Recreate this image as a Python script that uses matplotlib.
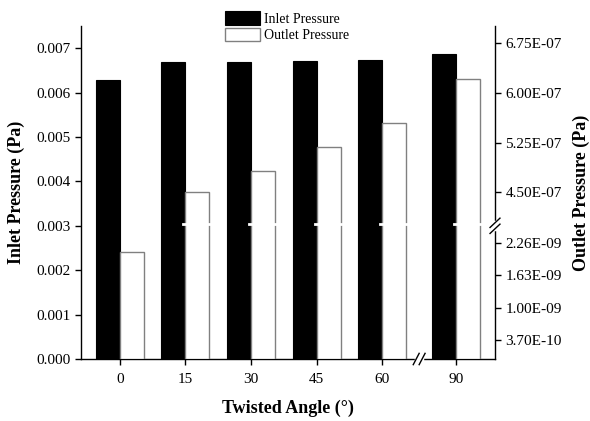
import numpy as np
import matplotlib
matplotlib.use("Agg")
import matplotlib.pyplot as plt
import matplotlib.transforms as mtransforms

plt.rcParams['font.family'] = ['Liberation Serif', 'DejaVu Serif']
plt.rcParams['axes.linewidth'] = 1.0

# data
angles = ["0", "15", "30", "45", "60", "90"]
inlet = [0.00629, 0.00670, 0.00669, 0.00671, 0.00673, 0.00686]
outlet = [2.09e-9, 4.50e-7, 4.83e-7, 5.19e-7, 5.55e-7, 6.21e-7]

left_ticks = [0.000, 0.001, 0.002, 0.003, 0.004, 0.005, 0.006, 0.007]
right_ticks = [3.70e-10, 1.00e-9, 1.63e-9, 2.26e-9, 4.50e-7, 5.25e-7, 6.00e-7, 6.75e-7]

# broken right scale: lower piece and upper piece
low_top = 2.6e-9
high_bot = 4.0e-7
high_top = 7.0e-7
frac_break = 0.40

def fwd(v):
	v = np.asarray(v, dtype=float)
	return np.interp(v, [0.0, low_top, high_bot, high_top], [0.0, frac_break, frac_break + 1e-9, 1.0])

def inv(f):
	f = np.asarray(f, dtype=float)
	return np.interp(f, [0.0, frac_break, frac_break + 1e-9, 1.0], [0.0, low_top, high_bot, high_top])

# category positions (gap after 60 for the axis break)
xpos = np.arange(len(angles), dtype=float)
xpos[5:] += 0.12
bw = 0.366

fig = plt.figure(figsize=(5.9, 4.21), dpi=100)
ax = fig.add_axes([81/590, 1 - 359/421, 414/590, 333/421])
ax2 = ax.twinx()

ax.bar(xpos, inlet, width=-bw, align='edge', color='black', edgecolor='black', linewidth=0.8, label='Inlet Pressure')
ax2.set_yscale('function', functions=(fwd, inv))
ax2.bar(xpos, outlet, width=bw, align='edge', color='white', edgecolor='#808080', linewidth=1.0, label='Outlet Pressure')

ax.set_xlim(-0.59, xpos[-1] + 0.595)
ax.set_ylim(0, 0.0075)
ax2.set_ylim(0, high_top)

ax.set_xticks(xpos)
ax.set_xticklabels(angles)
ax.set_yticks(left_ticks)
ax.set_yticklabels(["%.3f" % t for t in left_ticks])
ax2.set_yticks(right_ticks)
ax2.set_yticklabels(["%.2E" % t for t in right_ticks])
ax2.minorticks_off()

for a in (ax, ax2):
	a.spines['top'].set_visible(False)
	a.tick_params(direction='out', length=4.5, width=1.0, labelsize=11, pad=3)
ax.tick_params(axis='x', pad=5.5)
ax.spines['right'].set_visible(False)
ax2.spines['left'].set_visible(False)
ax2.spines['bottom'].set_visible(False)

ax.set_xlabel("Twisted Angle (°)", fontsize=13, fontweight='bold', labelpad=10)
ax.set_ylabel("Inlet Pressure (Pa)", fontsize=13, fontweight='bold', labelpad=8)
ax2.set_ylabel("Outlet Pressure (Pa)", fontsize=13, fontweight='bold', labelpad=8)

# gap in the white bars at the break
trb = mtransforms.blended_transform_factory(ax2.transData, ax2.transAxes)
for i in range(len(outlet)):
	if outlet[i] > high_bot:
		ax2.plot([xpos[i] - 0.03, xpos[i] + bw + 0.01], [frac_break + 0.005, frac_break + 0.005], color='white', lw=2.0,
			transform=trb, zorder=5)

# break marks on the right axis
tr = ax2.transAxes
ax2.plot([1, 1], [frac_break - 0.01, frac_break + 0.01], color='white', lw=2.5, transform=tr, clip_on=False, zorder=6)
for dy in (-0.009, 0.009):
	ax2.plot([1 - 0.012, 1 + 0.012], [frac_break + dy - 0.014, frac_break + dy + 0.014], color='black', lw=1.0,
		transform=tr, clip_on=False, zorder=7)

# break marks on the x axis
xb = (xpos[4] + xpos[5]) / 2.0
trx = mtransforms.blended_transform_factory(ax.transData, ax.transAxes)
ax.plot([xb - 0.045, xb + 0.045], [0, 0], color='white', lw=2.5, transform=trx, clip_on=False, zorder=6)
for dx in (-0.045, 0.045):
	ax.plot([xb + dx - 0.045, xb + dx + 0.045], [-0.017, 0.017], color='black', lw=1.0,
		transform=trx, clip_on=False, zorder=7)

h1, l1 = ax.get_legend_handles_labels()
h2, l2 = ax2.get_legend_handles_labels()
fig.legend(h1 + h2, l1 + l2, loc='upper left', bbox_to_anchor=(225/590, 1 - 11/421), frameon=False,
	fontsize=10, borderpad=0, borderaxespad=0, handlelength=2.5, handleheight=1.15,
	labelspacing=0.15, handletextpad=0.3)

fig.savefig("out.png", dpi=100)
